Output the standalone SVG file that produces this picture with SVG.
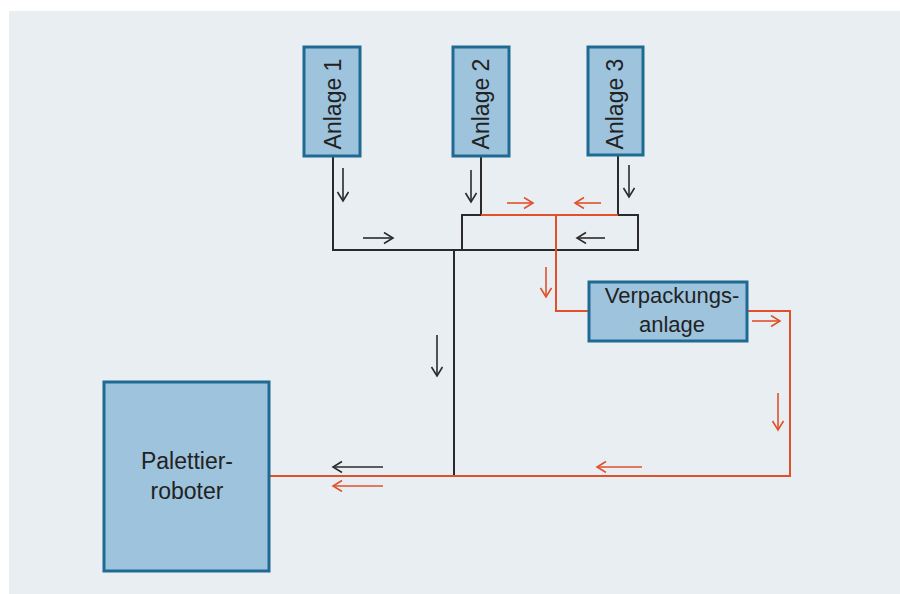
<svg xmlns="http://www.w3.org/2000/svg" width="900" height="594" viewBox="0 0 900 594">
<defs>
<style>
.box{fill:#9dc3dd;stroke:#1f6a92;stroke-width:3}
.lbl{font-family:"Liberation Sans",Arial,sans-serif;font-size:22px;fill:#222;text-anchor:middle}
.blk{fill:none;stroke:#2a2a2a;stroke-width:2}
.red{fill:none;stroke:#e0502a;stroke-width:2}
.ab{fill:none;stroke:#2a2a2a;stroke-width:1.6;marker-end:url(#hb)}
.ar{fill:none;stroke:#e0502a;stroke-width:1.6;marker-end:url(#hr)}
</style>
<marker id="hb" markerUnits="userSpaceOnUse" markerWidth="14" markerHeight="14" refX="10" refY="6" orient="auto"><path d="M1,0.5 L10,6 L1,11.5" fill="none" stroke="#2a2a2a" stroke-width="1.6"/></marker>
<marker id="hr" markerUnits="userSpaceOnUse" markerWidth="14" markerHeight="14" refX="10" refY="6" orient="auto"><path d="M1,0.5 L10,6 L1,11.5" fill="none" stroke="#e0502a" stroke-width="1.6"/></marker>
</defs>
<rect x="0" y="0" width="900" height="594" fill="#ffffff"/>
<rect x="9" y="11" width="891" height="583" fill="#e9eef3"/>
<g id="connectors">
<path class="blk" d="M333,156 V250 H638 V215 H618 V155 M462,250 V215 H481 V156 M454,250 V476"/>
<path class="red" d="M481,215 H618 M556,215 V311 H589 M747,311 H790 V476 H270"/>
<path class="ab" d="M343,168 V201"/>
<path class="ab" d="M471,170 V202"/>
<path class="ab" d="M629,165 V197"/>
<path class="ab" d="M363,238 H393"/>
<path class="ab" d="M605,238 H577"/>
<path class="ab" d="M437,335 V376"/>
<path class="ab" d="M383,467 H333"/>
<path class="ar" d="M507,203 H533"/>
<path class="ar" d="M601,203 H575"/>
<path class="ar" d="M546,267 V297"/>
<path class="ar" d="M752,321 H780"/>
<path class="ar" d="M778,393 V430"/>
<path class="ar" d="M642,467 H597"/>
<path class="ar" d="M383,486 H333"/>
</g>
<g id="anlage1"><rect class="box" x="304" y="47" width="56" height="109"/><text class="lbl" style="font-size:23px" transform="translate(341,104) rotate(-90)">Anlage 1</text></g>
<g id="anlage2"><rect class="box" x="453" y="47" width="56" height="109"/><text class="lbl" style="font-size:23px" transform="translate(489,104) rotate(-90)">Anlage 2</text></g>
<g id="anlage3"><rect class="box" x="588" y="47" width="55" height="108"/><text class="lbl" style="font-size:23px" transform="translate(623,104) rotate(-90)">Anlage 3</text></g>
<g id="verpackungsanlage"><rect class="box" x="589" y="282" width="158" height="59"/><text class="lbl" x="672" y="303">Verpackungs-</text><text class="lbl" x="672" y="332">anlage</text></g>
<g id="palettierroboter"><rect class="box" x="104" y="382" width="165" height="189"/><text class="lbl" style="font-size:23px" x="187" y="469">Palettier-</text><text class="lbl" style="font-size:23px" x="187" y="499">roboter</text></g>
</svg>
